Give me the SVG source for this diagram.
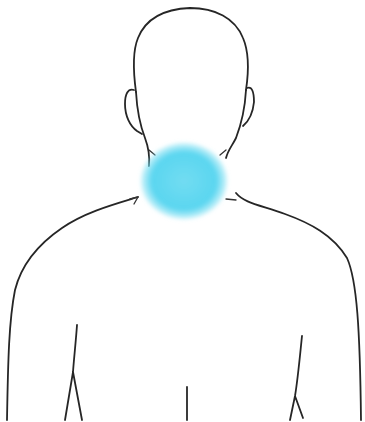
<svg xmlns="http://www.w3.org/2000/svg" width="365" height="422" viewBox="0 0 365 422">
  <defs>
    <style>
      .line { fill: none; stroke: #262626; stroke-width: 1.8; stroke-linecap: round; stroke-linejoin: round; }
      .thin { fill: none; stroke: #333333; stroke-width: 1.3; stroke-linecap: round; }
    </style>
    <radialGradient id="glow" cx="0.5" cy="0.5" r="0.5">
      <stop offset="0" stop-color="#72dcf2"/>
      <stop offset="0.75" stop-color="#5ad6f0"/>
      <stop offset="1" stop-color="#7fe0f3" stop-opacity="0.4"/>
    </radialGradient>
    <filter id="soft" x="-30%" y="-30%" width="160%" height="160%">
      <feGaussianBlur stdDeviation="2.2"/>
    </filter>
  </defs>
  <rect width="365" height="422" fill="#ffffff"/>

  <!-- head -->
  <g id="head">
    <path class="line" d="M136,92 C133,70 133,50 138,38 C146,18 165,9 190,8 C215,8 235,18 243,38 C249,52 249,70 246,90"/>
    <!-- left ear -->
    <path class="line" d="M134,90 C128,88 125,94 125,104 C125,116 130,126 137,131 L142,134"/>
    <!-- right ear -->
    <path class="line" d="M247,88 C252,86 254,92 254,102 C253,112 249,121 243,126"/>
    <!-- jaw / neck sides -->
    <path class="line" d="M136,92 C137,110 140,125 145,138 C148,146 150,155 149,166"/>
    <path class="thin" d="M149,150 L155,155"/>
    <path class="line" d="M246,90 C245,108 241,125 236,138 C232,146 228,150 226,158"/>
    <path class="thin" d="M226,150 L220,155"/>
  </g>

  <!-- torso -->
  <g id="torso">
    <path class="line" d="M138,197 C115,204 85,212 62,228 C40,243 22,262 15,290 C9,320 8,360 7,420"/>
    <path class="thin" d="M138,197 L134,204 M138,197 L130,199"/>
    <path class="line" d="M236,193 C244,203 260,205 285,214 C310,223 333,235 347,258 C357,280 360,330 361,420"/>
    <path class="thin" d="M236,200 L226,199"/>
    <!-- chest lines -->
    <path class="line" d="M77,325 C76,340 74,358 73,372 L65,420 M73,372 L82,420"/>
    <path class="line" d="M187,387 L187,420"/>
    <path class="line" d="M302,336 C300,355 298,378 295,396 L290,420 M295,396 L303,418"/>
  </g>

  <!-- highlighted area on the throat -->
  <g id="highlight">
    <ellipse cx="184" cy="181" rx="43" ry="38" fill="url(#glow)" filter="url(#soft)"/>
  </g>
</svg>
